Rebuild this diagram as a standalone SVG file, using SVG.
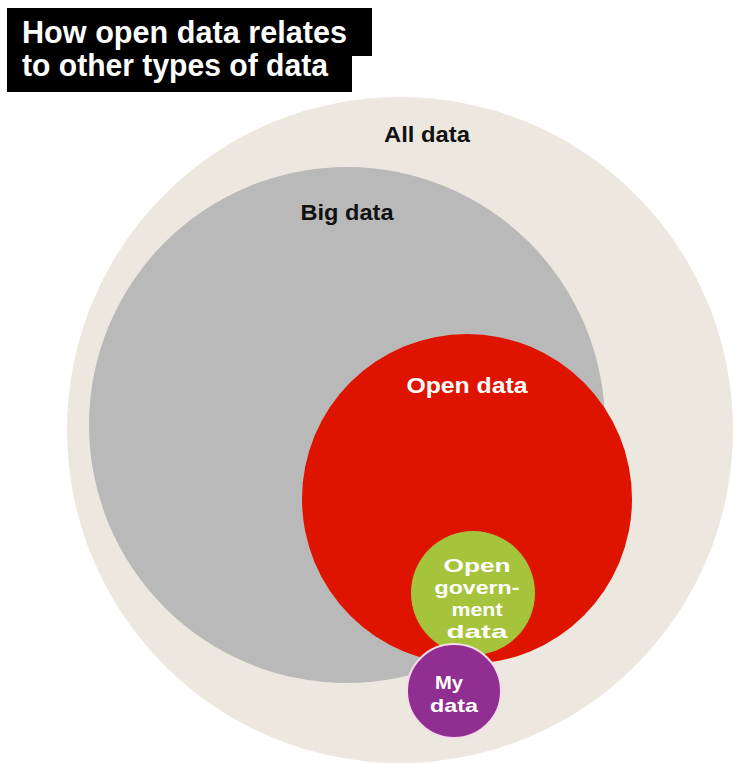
<svg xmlns="http://www.w3.org/2000/svg" width="733" height="763" viewBox="0 0 733 763">
<style>
.lbl{font-family:"Liberation Sans","DejaVu Sans",Arial,sans-serif;font-weight:bold;text-anchor:middle;font-size:22px}
.sm{font-size:19px}
.dark{fill:#111111}
.light{fill:#ffffff}
.ttl{font-family:"Liberation Sans","DejaVu Sans",Arial,sans-serif;font-weight:bold;fill:#ffffff;font-size:31px}
</style>
<rect x="0" y="0" width="733" height="763" fill="#ffffff"/>
<g id="title">
<rect x="7" y="8" width="365" height="48" fill="#000000"/>
<rect x="7" y="52" width="345" height="40" fill="#000000"/>
<text x="22" y="43" class="ttl" textLength="325" lengthAdjust="spacingAndGlyphs">How open data relates</text>
<text x="22" y="76" class="ttl" textLength="306" lengthAdjust="spacingAndGlyphs">to other types of data</text>
</g>
<g id="all-data">
<circle cx="400" cy="430" r="333" fill="#ECE8DF"/>
<text x="427" y="142" class="lbl dark" textLength="86" lengthAdjust="spacingAndGlyphs">All data</text>
</g>
<g id="big-data">
<circle cx="347" cy="425" r="258" fill="#B9B9B9"/>
<text x="347" y="220" class="lbl dark" textLength="93" lengthAdjust="spacingAndGlyphs">Big data</text>
</g>
<g id="open-data">
<circle cx="467" cy="499" r="165" fill="#DE1400"/>
<text x="467" y="393" class="lbl light" textLength="121" lengthAdjust="spacingAndGlyphs">Open data</text>
</g>
<g id="open-government-data">
<circle cx="473" cy="593" r="62" fill="#A6C43B"/>
<text x="477" y="572" class="lbl sm light" textLength="67" lengthAdjust="spacingAndGlyphs">Open</text>
<text x="477" y="594" class="lbl sm light" textLength="85" lengthAdjust="spacingAndGlyphs">govern-</text>
<text x="477" y="616" class="lbl sm light" textLength="51" lengthAdjust="spacingAndGlyphs">ment</text>
<text x="477" y="638" class="lbl sm light" textLength="61" lengthAdjust="spacingAndGlyphs">data</text>
</g>
<g id="my-data">
<circle cx="454" cy="691" r="47" fill="#902F91" stroke="#F3DDE8" stroke-width="2"/>
<text x="449" y="689" class="lbl sm light" textLength="28" lengthAdjust="spacingAndGlyphs">My</text>
<text x="454" y="712" class="lbl sm light" textLength="48" lengthAdjust="spacingAndGlyphs">data</text>
</g>
<g id="connectors"></g>
</svg>
